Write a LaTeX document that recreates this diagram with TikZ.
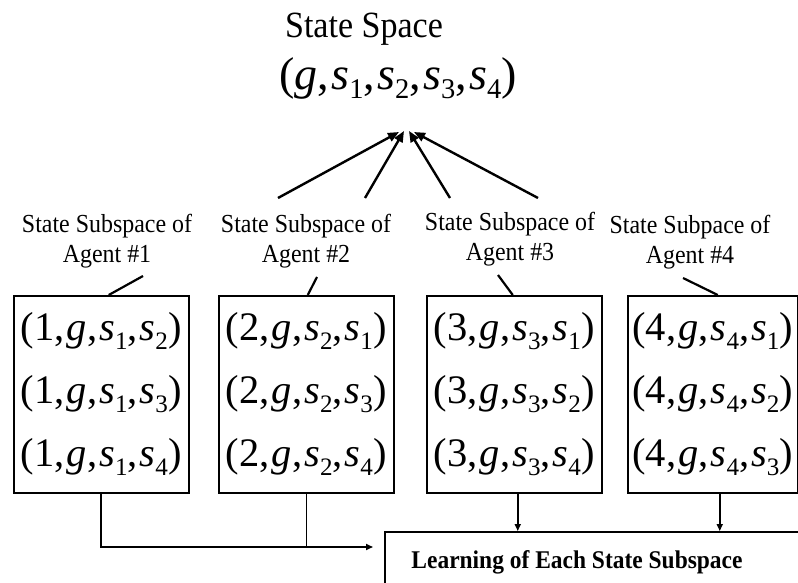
\documentclass[tikz,border=0pt]{standalone}
\usepackage{fontspec}
\usepackage{graphicx}
\setmainfont{Liberation Serif}
\newfontfamily\cond[FakeStretch=0.92]{Liberation Serif}
\usetikzlibrary{arrows.meta}
\newcommand\sx[1]{\textit{s}\raisebox{-0.2em}{\scalebox{0.62}{#1}}}
\newcommand\cm{,\kern0.05em}
\newcommand\rowt[3]{(#1\cm\textit{g}\cm\sx{#2}\cm\sx{#3})}
\begin{document}
\begin{tikzpicture}[x=1pt,y=-1pt,
  box/.style={draw, line width=1.5pt, minimum height=197pt, anchor=north west, inner sep=0pt, align=center, font=\fontsize{40.5}{63}\selectfont},
  lbl/.style={align=center, font=\cond\fontsize{26}{30}\selectfont, inner sep=0pt},
  uparrow/.style={line width=2.4pt, -{Triangle[length=11pt,width=9pt]}},
  tick/.style={line width=2.2pt},
  feedarrow/.style={line width=1.6pt, -{Triangle[length=7pt,width=6pt]}}]
\useasboundingbox (0,0) rectangle (798,583);
\clip (0,0) rectangle (798,583);
% title
\node[inner sep=0pt, font=\cond\fontsize{37}{37}\selectfont, anchor=base] (title) at (364,38) {State Space};
\node[inner sep=0pt, font=\fontsize{46}{46}\selectfont] (space) at (398,78) {(\textit{g}\cm\sx1\cm\sx2\cm\sx3\cm\sx4)};
% labels
\node[lbl] (l1) at (107,241) {State Subspace of\\Agent \#1};
\node[lbl] (l2) at (306,241) {State Subspace of\\Agent \#2};
\node[lbl] (l3) at (510,239) {State Subspace of\\Agent \#3};
\node[lbl] (l4) at (690,242) {State Subpace of\\Agent \#4};
% boxes
\node[box, minimum width=175pt] (b1) at (13,295) {\rowt1{1}{2}\\\rowt1{1}{3}\\\rowt1{1}{4}};
\node[box, minimum width=175pt] (b2) at (218,295) {\rowt2{2}{1}\\\rowt2{2}{3}\\\rowt2{2}{4}};
\node[box, minimum width=175pt] (b3) at (426,295) {\rowt3{3}{1}\\\rowt3{3}{2}\\\rowt3{3}{4}};
\node[box, minimum width=170pt] (b4) at (627,295) {\rowt4{4}{1}\\\rowt4{4}{2}\\\rowt4{4}{3}};
% learning box
\node[draw, line width=1.8pt, anchor=north west, minimum width=450pt, minimum height=90pt] (learn) at (384,531) {};
\node[inner sep=0pt, font=\cond\bfseries\fontsize{25.5}{25.5}\selectfont, anchor=base] (lt) at (577,568) {Learning of Each State Subspace};
% up arrows
\coordinate (u1) at (278,198); \coordinate (u2) at (365,198);
\coordinate (u3) at (450,198); \coordinate (u4) at (538,198);
\coordinate (a1) at (399,132); \coordinate (a2) at (404,131);
\coordinate (a3) at (409,131); \coordinate (a4) at (414,132);
\draw[uparrow] (u1) -- (a1);
\draw[uparrow] (u2) -- (a2);
\draw[uparrow] (u3) -- (a3);
\draw[uparrow] (u4) -- (a4);
% ticks from boxes to labels
\coordinate (t1) at (143,276); \coordinate (t2) at (317,277);
\coordinate (t3) at (498,275); \coordinate (t4) at (683,278);
\draw[tick] ([xshift=7.5pt]b1.north) -- (t1);
\draw[tick] ([xshift=1.5pt]b2.north) -- (t2);
\draw[tick] ([xshift=-1.5pt]b3.north) -- (t3);
\draw[tick] ([xshift=5pt]b4.north) -- (t4);
% feeds
\coordinate (tip) at (373,547);
\draw[feedarrow] (b1.south) |- (tip);
\draw[line width=0.9pt] (b2.south) -- (b2.south |- tip);
\draw[feedarrow] ([xshift=3.5pt]b3.south) -- ([xshift=3.5pt]b3.south |- learn.north);
\draw[feedarrow] ([xshift=7pt]b4.south) -- ([xshift=7pt]b4.south |- learn.north);
\end{tikzpicture}
\end{document}
